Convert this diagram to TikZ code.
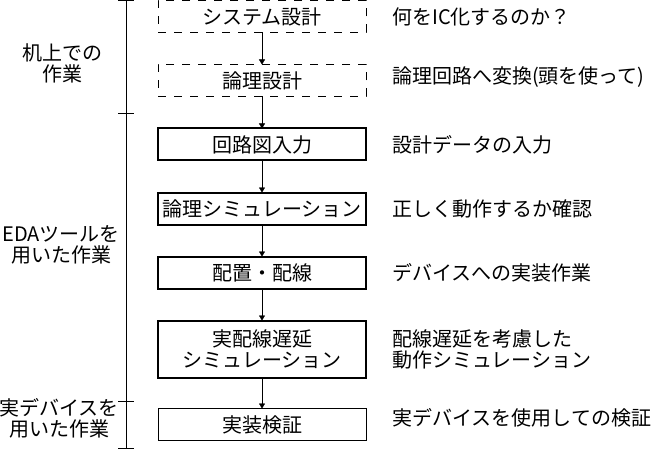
\documentclass[tikz,border=0pt]{standalone}
\usepackage{fontspec}
\setmainfont{Noto Sans CJK JP}
\usetikzlibrary{positioning, arrows.meta}

\begin{document}
\begin{tikzpicture}[x=1pt, y=1pt, node distance=32pt,
  every node/.style={font=\fontsize{20pt}{21pt}\selectfont},
  stagebox/.style={draw, minimum width=208pt, minimum height=32pt, inner sep=0pt, outer sep=0pt, align=center},
  planbox/.style={stagebox, line width=1pt, dash pattern=on 8pt off 8pt},
  toolbox/.style={stagebox, line width=2pt},
  realbox/.style={stagebox, line width=1pt},
  note/.style={align=left, inner sep=2pt},
  side/.style={align=center, inner sep=0pt},
  >={Triangle[length=5pt, width=6pt]}]
  \useasboundingbox (0,0) rectangle (655,-449);

  % flow of the design steps
  \node[planbox] (sys) at (262,-16.5) {システム設計};
  \node[planbox, below=of sys] (logic) {論理設計};
  \node[toolbox, below=of logic] (schem) {回路図入力};
  \node[toolbox, below=of schem] (logicsim) {論理シミュレーション};
  \node[toolbox, below=of logicsim] (pr) {配置・配線};
  \node[toolbox, below=of pr, minimum height=57pt] (delaysim) {実配線遅延\\シミュレーション};
  \node[realbox, below=31pt of delaysim] (verify) {実装検証};

  \draw[->] (sys) -- (logic);
  \draw[->] (logic) -- (schem);
  \draw[->] (schem) -- (logicsim);
  \draw[->] (logicsim) -- (pr);
  \draw[->] (pr) -- (delaysim);
  \draw[->] (delaysim) -- (verify);

  % what each step means
  \node[note, right=24pt of sys] (sysnote) {何をIC化するのか？};
  \node[note, right=24pt of logic, yshift=3pt] (logicnote) {論理回路へ変換(頭を使って)};
  \node[note, right=24pt of schem] (schemnote) {設計データの入力};
  \node[note, right=24pt of logicsim] (logicsimnote) {正しく動作するか確認};
  \node[note, right=24pt of pr] (prnote) {デバイスへの実装作業};
  \node[note, right=24pt of delaysim] (delaysimnote) {配線遅延を考慮した\\動作シミュレーション};
  \node[note, right=24pt of verify, yshift=7pt] (verifynote) {実デバイスを使用しての検証};

  % phases on the left
  \coordinate (phtop) at (126,-0.5);
  \coordinate (phdesk) at (126,-113);
  \coordinate (pheda) at (126,-401);
  \coordinate (phend) at (126,-448);
  \draw (phtop) -- (phend);
  \foreach \c in {phtop, phdesk, pheda, phend}
    \draw ([xshift=-8pt]\c) -- ([xshift=8pt]\c);

  \node[side] (deskwork) at (62,-63) {机上での\\作業};
  \node[side] (edawork) at (61,-245) {EDAツールを\\用いた作業};
  \node[side] (devwork) at (59,-418) {実デバイスを\\用いた作業};
\end{tikzpicture}
\end{document}
